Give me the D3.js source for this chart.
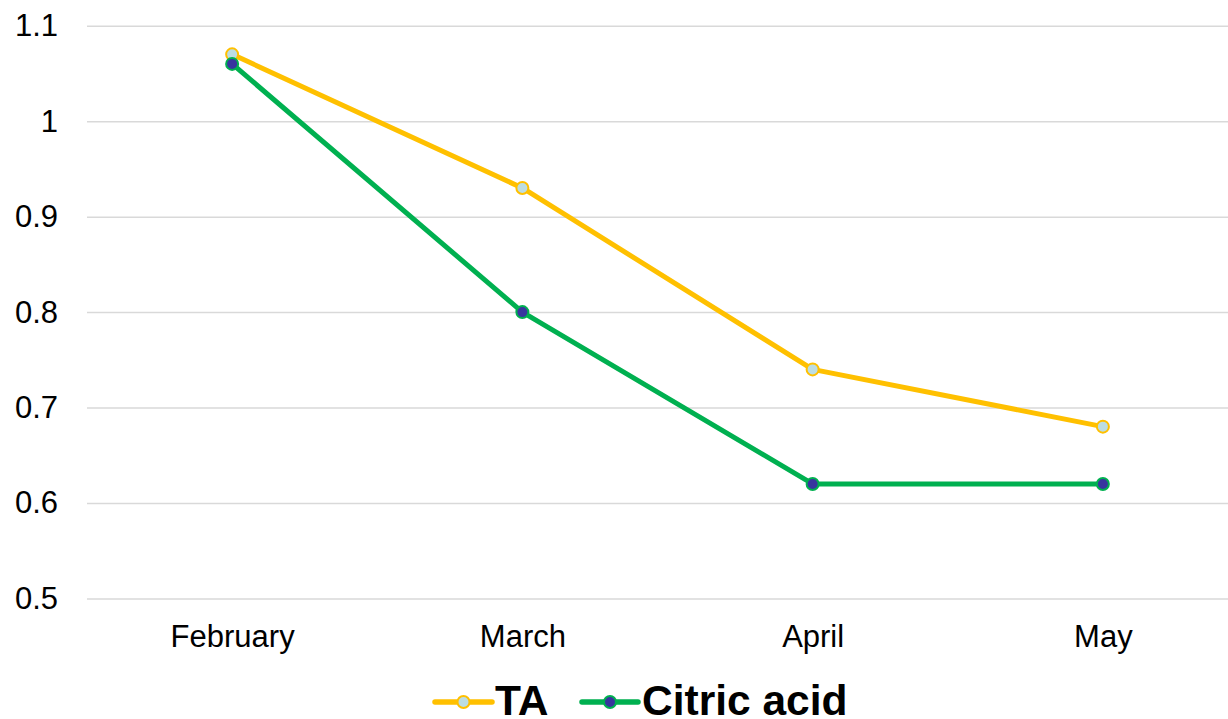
<!DOCTYPE html>
<html><head><meta charset="utf-8">
<script src="https://cdn.jsdelivr.net/npm/d3@7"></script>
<style>body{margin:0;background:#fff}svg{display:block;font-family:"Liberation Sans",Arial,sans-serif}</style>
</head><body><svg id="c" width="1228" height="719"></svg>
<script>
const categories = ["February","March","April","May"];
const taValues = [1.07, 0.93, 0.74, 0.68];
const citricValues = [1.06, 0.80, 0.62, 0.62];
const yTicks = [0.5,0.6,0.7,0.8,0.9,1.0,1.1];
const seriesNames = ["TA","Citric acid"];

(function(){
const svg = d3.select("#c");
const mLeft = 87, mRight = 1248, mTop = 25.7, mBottom = 598.5;
const x = d3.scalePoint().domain(categories).range([mLeft, mRight]).padding(0.5);
const y = d3.scaleLinear().domain([0.5,1.1]).range([mBottom, mTop]);

const yAxis = d3.axisLeft(y).tickValues(yTicks).tickSize(-(mRight-mLeft)).tickFormat(d3.format("~g"));
const gy = svg.append("g").attr("transform",`translate(${mLeft},0)`).call(yAxis);
gy.select(".domain").remove();
gy.selectAll(".tick line").attr("stroke","#d9d9d9").attr("stroke-width",1.5);
gy.selectAll(".tick text").attr("x",-29).attr("font-size",31).attr("fill","#000").attr("font-family","Liberation Sans, Arial, sans-serif");

const xAxis = d3.axisBottom(x).tickSize(0);
const gx = svg.append("g").attr("transform",`translate(0,${mBottom})`).call(xAxis);
gx.select(".domain").remove();
gx.selectAll(".tick text").attr("dy",0).attr("y",48.5).attr("font-size",31).attr("fill","#000").attr("font-family","Liberation Sans, Arial, sans-serif");

const series = [
  {name:seriesNames[0], values:taValues, stroke:"#FFC000", fill:"#BCDDE3"},
  {name:seriesNames[1], values:citricValues, stroke:"#00B050", fill:"#38359E"}
];
const line = d3.line().x((d,i)=>x(categories[i])).y(d=>y(d));
series.forEach(s=>{
  svg.append("path").datum(s.values).attr("d",line).attr("fill","none")
    .attr("stroke",s.stroke).attr("stroke-width",5).attr("stroke-linejoin","round");
});
series.forEach(s=>{
  svg.append("g").selectAll("circle").data(s.values).join("circle")
    .attr("cx",(d,i)=>x(categories[i])).attr("cy",d=>y(d)).attr("r",6)
    .attr("fill",s.fill).attr("stroke",s.stroke).attr("stroke-width",2);
});

const legY = 702;
const legItems = [{x0:435, x1:492, tx:495}, {x0:582, x1:638, tx:642}];
series.forEach((s,i)=>{
  const L = legItems[i];
  const g = svg.append("g");
  g.append("line").attr("x1",L.x0).attr("x2",L.x1).attr("y1",legY).attr("y2",legY)
    .attr("stroke",s.stroke).attr("stroke-width",5.5).attr("stroke-linecap","round");
  g.append("circle").attr("cx",(L.x0+L.x1)/2).attr("cy",legY).attr("r",6)
    .attr("fill",s.fill).attr("stroke",s.stroke).attr("stroke-width",2);
  g.append("text").attr("x",L.tx).attr("y",715).attr("font-size",42.5).attr("font-weight","bold")
    .attr("fill","#000").text(s.name);
});
})();
</script></body></html>
